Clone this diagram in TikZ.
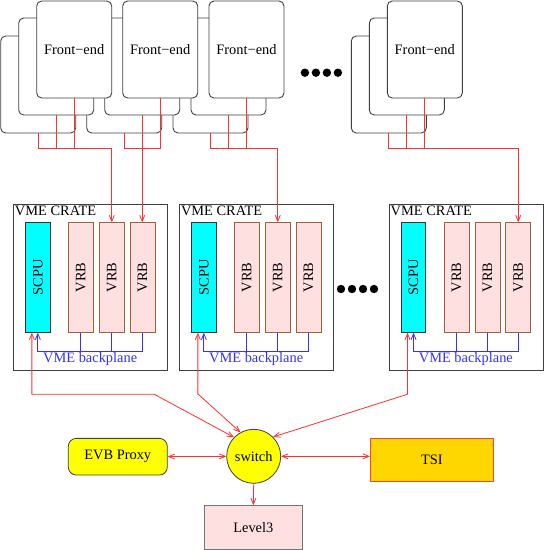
\documentclass[tikz,border=0pt]{standalone}
\usepackage{fontspec}
\setmainfont{Liberation Serif}
\usepackage{tikz}
\usetikzlibrary{positioning,calc,arrows.meta}
\definecolor{cardgray}{HTML}{404040}
\definecolor{redline}{HTML}{FF3030}
\definecolor{bpblue}{HTML}{3333FF}
\definecolor{scpucyan}{HTML}{00FFFF}
\definecolor{vrbpink}{HTML}{FFE0E0}
\definecolor{vrbbrown}{HTML}{A0603C}
\definecolor{tsigold}{HTML}{FFD700}
\definecolor{tsired}{HTML}{FF4040}
\definecolor{proxyyellow}{HTML}{FFFF00}

\begin{document}
\begin{tikzpicture}[x=1pt,y=-1pt,
    font=\fontsize{14.4}{17}\selectfont,
    card/.style={draw=cardgray, fill=white, line width=0.9pt, rounded corners=5pt,
        minimum width=75pt, minimum height=97pt, anchor=north west, outer sep=0pt},
    crate/.style={draw=cardgray, line width=0.9pt, minimum width=154pt,
        minimum height=166.3pt, anchor=north west, outer sep=0pt},
    scpu/.style={draw=black!80, fill=scpucyan, line width=0.8pt, minimum width=24.3pt,
        minimum height=110.4pt, inner sep=0pt, outer sep=0pt},
    vrb/.style={draw=vrbbrown, fill=vrbpink, line width=0.8pt, minimum width=25pt,
        minimum height=110.4pt, inner sep=0pt, outer sep=0pt},
    feline/.style={draw=redline, line width=0.8pt},
    bpline/.style={draw=bpblue, line width=0.8pt},
    onearrow/.style={-{Straight Barb[length=6pt,width=5pt]}},
    twoarrow/.style={{Straight Barb[length=6pt,width=5pt]}-{Straight Barb[length=6pt,width=5pt]}},
    switchnode/.style={circle, draw=cardgray, fill=proxyyellow, line width=0.8pt, minimum size=54pt, inner sep=0pt},
    proxy/.style={draw=cardgray, fill=proxyyellow, line width=0.8pt, rounded corners=8pt,
        minimum width=99pt, minimum height=36.7pt},
    tsibox/.style={draw=tsired, fill=tsigold, line width=0.8pt, minimum width=123pt, minimum height=43pt},
    l3box/.style={draw=black!55, fill=vrbpink, line width=0.8pt, minimum width=98pt, minimum height=43.3pt}]
    \useasboundingbox (0,0) rectangle (545,550);

    % front-end boards, right group first so the left ones lie on top
    \foreach \g/\x in {4/387.3,3/209,2/122.7,1/36.7} {
        \node[card] (back\g) at (\x-36,36) {};
        \node[card] (mid\g) at (\x-18,18) {};
        \node[card] (front\g) at (\x,1) {Front−end};
    }
    \foreach \i in {0,...,3} \fill (304.9+11*\i,72.7) circle (4.2pt);

    % crates
    \foreach \c/\x in {1/13.3,2/179.3,3/389} {
        \node[crate] (crate\c) at (\x,204) {};
        \node[anchor=north west, inner sep=1.5pt] (crl\c) at (crate\c.north west) {VME CRATE};
        \node[scpu, below right=18.3pt and 12.4pt of crate\c.north west] (scpu\c) {\rotatebox{90}{SCPU}};
        \node[vrb, right=18.3pt of scpu\c] (vrb\c1) {\rotatebox{90}{VRB}};
        \node[vrb, right=6pt of vrb\c1] (vrb\c2) {\rotatebox{90}{VRB}};
        \node[vrb, right=5.7pt of vrb\c2] (vrb\c3) {\rotatebox{90}{VRB}};
        \coordinate (bp\c) at ($(scpu\c.south)+(0,18.3)$);
        \draw[bpline,onearrow] (vrb\c3.south) |- (bp\c) -- (scpu\c.south);
        \draw[bpline] (vrb\c1.south) -- (vrb\c1.south |- bp\c);
        \draw[bpline] (vrb\c2.south) -- (vrb\c2.south |- bp\c);
        \node[text=bpblue, anchor=north, inner sep=1pt] (bpl\c)
            at ($(bp\c)!0.5!(vrb\c3.south |- bp\c)$) {VME backplane};
    }
    \foreach \i in {0,...,3} \fill (341+11*\i,289) circle (4.2pt);

    % front-end links
    \coordinate (bus) at (0,148);
    \foreach \g in {1,...,4} {
        \draw[feline] (back\g.south) |- (front\g.south |- bus) -- (front\g.south);
        \draw[feline] (mid\g.south) -- (mid\g.south |- bus);
    }
    \draw[feline,onearrow] (front1.south |- bus) -- (vrb12.north |- bus) -- (vrb12.north);
    \draw[feline,onearrow] (mid2.south |- bus) -- (mid2.south |- vrb13.north);
    \draw[feline,onearrow] (front3.south |- bus) -- (vrb22.north |- bus) -- (vrb22.north);
    \draw[feline,onearrow] (front4.south |- bus) -- (vrb33.north |- bus) -- (vrb33.north);

    % event builder
    \node[switchnode] (sw) at (253.7,456.3) {switch};
    \node[proxy] (evb) at (117.8,456.7) {EVB Proxy};
    \node[tsibox] (tsi) at (431.8,459.5) {TSI};
    \node[l3box] (lvl3) at (253.3,527.3) {Level3};

    \coordinate (k1) at (154.3,394.3);
    \coordinate (k2) at (198.3,394.3);
    \coordinate (k3) at (407.3,394.3);
    \draw[feline,twoarrow] ($(scpu1.south)+(-6,0)$) |- (k1) -- (sw.136);
    \draw[feline,twoarrow] ($(scpu2.south)+(-6,0)$) |- (k2) -- (sw.119);
    \draw[feline,twoarrow] ($(scpu3.south)+(-6,0)$) |- (k3) -- (sw.45);
    \draw[feline,twoarrow] (evb) -- (sw);
    \draw[feline,twoarrow] (sw.east) -- (sw.east -| tsi.west);
    \draw[feline,onearrow] (sw.south) -- (lvl3.north);
\end{tikzpicture}
\end{document}
